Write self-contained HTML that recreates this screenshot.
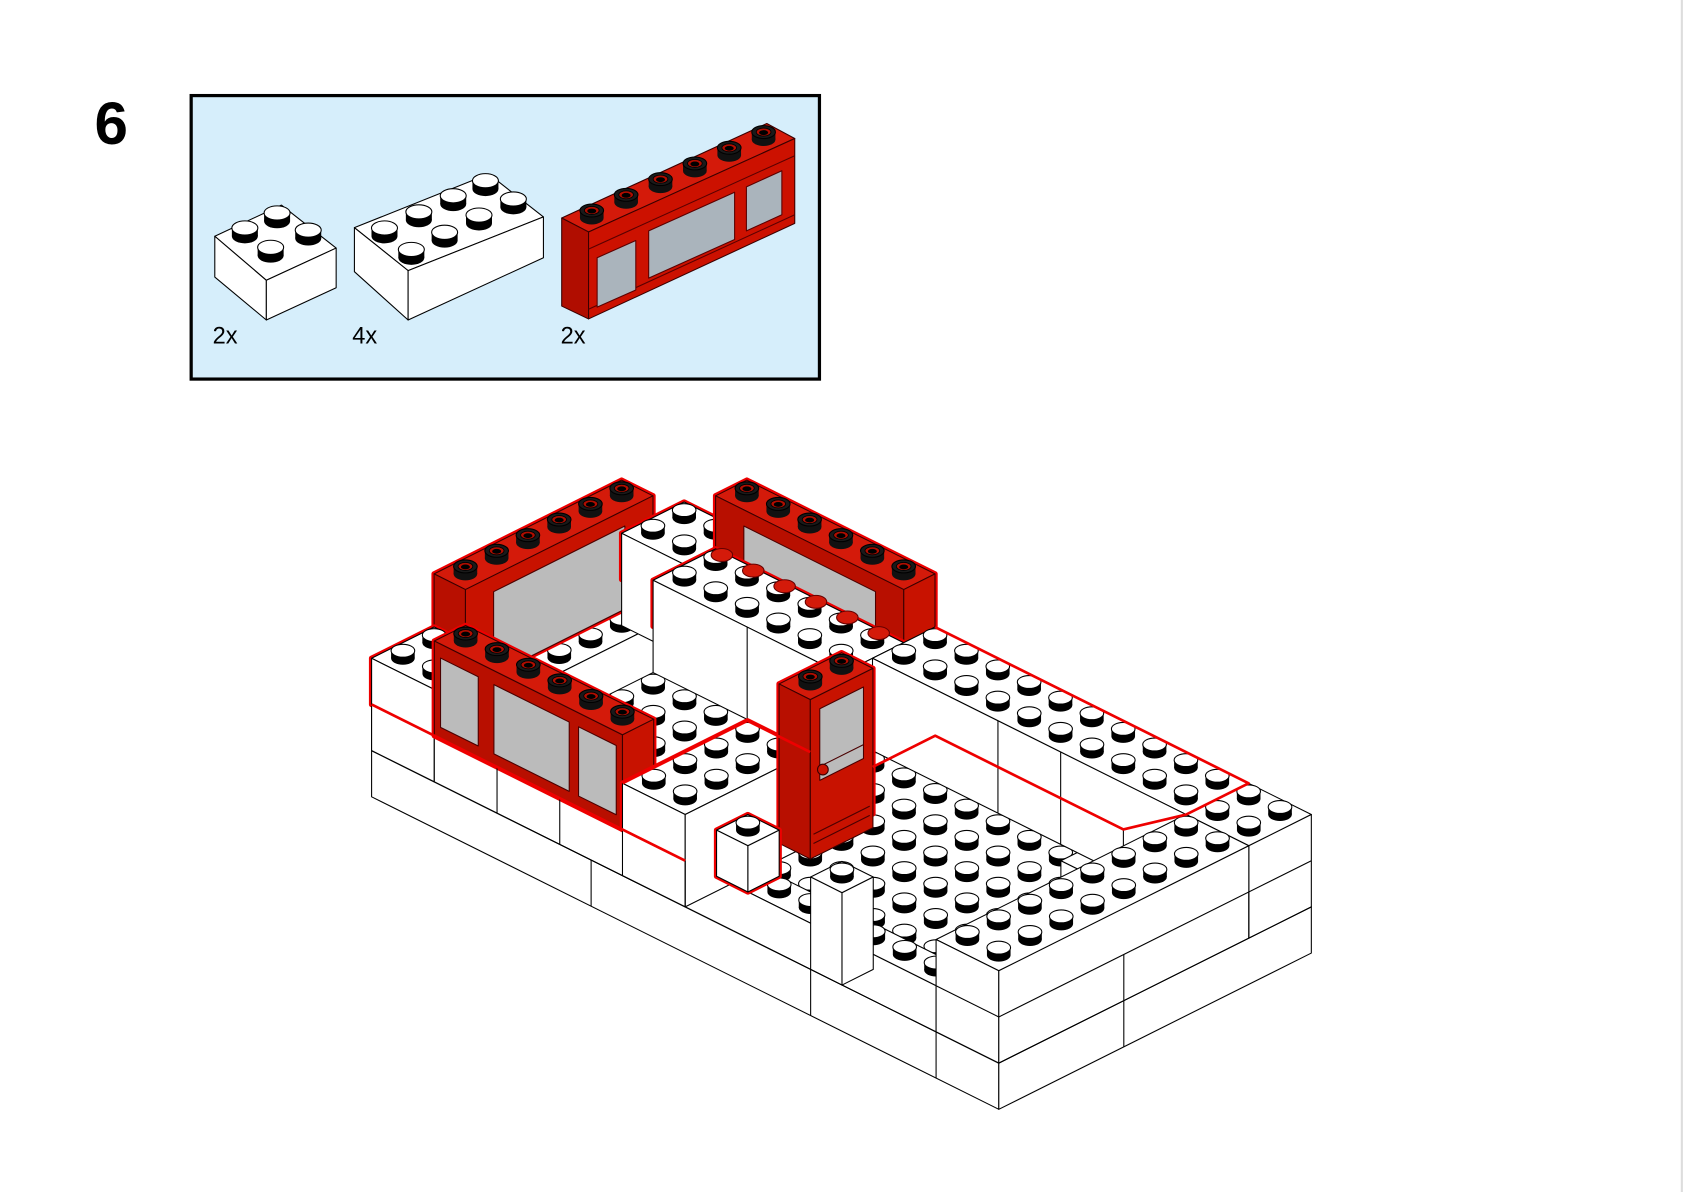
<!DOCTYPE html>
<html><head><meta charset="utf-8"><style>
html,body{margin:0;padding:0;background:#fff;}
svg{display:block;}
</style></head><body>
<svg id="s" xmlns="http://www.w3.org/2000/svg" width="1684" height="1192" viewBox="0 0 1568 1110" preserveAspectRatio="none">
<rect x="0" y="0" width="1568" height="1110" fill="#fff"/>
<line x1="1566" y1="0" x2="1566" y2="1110" stroke="#ddd" stroke-width="2"/>
<text x="88" y="134" font-family="Liberation Sans, sans-serif" font-weight="bold" font-size="56" fill="#000">6</text>
<rect x="178" y="89" width="585" height="264" fill="#d6eefb" stroke="#000" stroke-width="3"/>
<g font-family="Liberation Sans, sans-serif" font-size="22" fill="#000">
<text x="198" y="320">2x</text><text x="328" y="320">4x</text><text x="522" y="320">2x</text>
</g>
<g id="parts" stroke="#000" stroke-width="1" stroke-linejoin="round">
<polygon points="200,220 262,191 313,231 248,261" fill="#fff"/>
<polygon points="200,220 248,261 248,298 200,258" fill="#fff"/>
<polygon points="248,261 313,231 313,268 248,298" fill="#fff"/>
<polygon points="330,212 455,162 506,202 380,252" fill="#fff"/>
<polygon points="330,212 380,252 380,298 330,253" fill="#fff"/>
<polygon points="380,252 506,202 506,240 380,298" fill="#fff"/>
<polygon points="523,203 714,115 740,129 548,216" fill="#d41a0a" stroke="#3a0000"/>
<polygon points="523,203 548,216 548,297 523,285" fill="#b00d00" stroke="#3a0000"/>
<polygon points="548,216 740,129 740,208 548,297" fill="#cc1100" stroke="#3a0000"/>
<polyline points="548,232 740,145" fill="none" stroke="#5a0000"/>
<polyline points="548,288 740,200" fill="none" stroke="#5a0000"/>
<polygon points="556,240 592,224 592,270 556,286" fill="#aab4bc" stroke="#5a0000"/>
<polygon points="604,215 684,179 684,223 604,259" fill="#aab4bc" stroke="#5a0000"/>
<polygon points="695,174 728,159 728,200 695,215" fill="#aab4bc" stroke="#5a0000"/>
</g>
<g id="pst"></g>
<g id="m"></g>
</svg>
<script>
const NS='http://www.w3.org/2000/svg';
let G=document.getElementById('pst');
function el(t,a){const e=document.createElementNS(NS,t);for(const k in a)e.setAttribute(k,a[k]);G.appendChild(e);return e;}
function pts(a){return a.map(p=>p[0].toFixed(1)+','+p[1].toFixed(1)).join(' ');}
function pg(a,fill,stroke,sw){el('polygon',{points:pts(a),fill:fill,stroke:stroke||'#000','stroke-width':sw||1,'stroke-linejoin':'round'});}
function stud(x,y,red,r){r=r||1;const rx=11*r,ry=6*r,h=7*r;
 if(red){
  el('rect',{x:x-rx,y:y-h,width:2*rx,height:h,fill:'#111'});
  el('ellipse',{cx:x,cy:y,rx:rx,ry:ry,fill:'#111'});
  el('ellipse',{cx:x,cy:y-h,rx:rx,ry:ry,fill:'#1a1a1a',stroke:'#000'});
  el('ellipse',{cx:x,cy:y-h,rx:rx*0.62,ry:ry*0.62,fill:'#b00d00',stroke:'#000','stroke-width':0.8});
  el('ellipse',{cx:x,cy:y-h+0.5,rx:rx*0.38,ry:ry*0.38,fill:'#000'});
 }else{
  el('rect',{x:x-rx,y:y-h,width:2*rx,height:h,fill:'#000'});
  el('ellipse',{cx:x,cy:y,rx:rx,ry:ry,fill:'#000'});
  el('ellipse',{cx:x,cy:y-h,rx:rx,ry:ry,fill:'#fff',stroke:'#000'});
 }}
[[258,206],[228,220],[287,222],[252,238]].forEach(p=>stud(p[0],p[1],false,1.1));
[[452,176],[422,190],[478,193],[390,205],[446,208],[358,220],[414,224],[383,240]].sort((a,b)=>a[1]-b[1]).forEach(p=>stud(p[0],p[1],false,1.1));
for(let i=0;i<6;i++){stud(551+i*32,203-i*14.6,true,1.0);}

G=document.getElementById('m');
function P(u,v,h){return [930-29.2*u+29.1*v,1033-14.55*(u+v)-43*h];}
function box(u0,u1,v0,v1,h0,h1,o){o=o||{};
 const red=o.red,st=red?'#3a0000':'#000';
 if(o.out){const b=Math.max(h0,2);pg([P(u1,v0,b),P(u0,v0,b),P(u0,v1,b),P(u0,v1,h1),P(u1,v1,h1),P(u1,v0,h1)],'none','#e00',5);}
 pg([P(u0,v0,h1),P(u1,v0,h1),P(u1,v1,h1),P(u0,v1,h1)],red?'#d41a0a':'#fff',st);
 pg([P(u0,v0,h0),P(u1,v0,h0),P(u1,v0,h1),P(u0,v0,h1)],red?'#b80f00':'#fff',st);
 pg([P(u0,v0,h0),P(u0,v1,h0),P(u0,v1,h1),P(u0,v0,h1)],red?'#c81200':'#fff',st);
 if(o.studs!==false){const L=[];
  for(let i=u0;i<u1-0.01;i++)for(let j=v0;j<v1-0.01;j++)L.push([i+0.5,j+0.5]);
  L.sort((a,b)=>(b[0]+b[1])-(a[0]+a[1]));
  L.forEach(s=>{const p=P(s[0],s[1],h1);stud(p[0],p[1],red);});}
}
function fV(v,ua,ub,ha,hb,f){pg([P(ua,v,ha),P(ub,v,ha),P(ub,v,hb),P(ua,v,hb)],f||'#bbbbbb','#4a0000',1);}
function fU(u,va,vb,ha,hb,f){pg([P(u,va,ha),P(u,vb,ha),P(u,vb,hb),P(u,va,hb)],f||'#bbbbbb','#4a0000',1);}
function ln(a,b,c){el('line',{x1:a[0],y1:a[1],x2:b[0],y2:b[1],stroke:c||'#000','stroke-width':1});}
function tile(u,v,h){const p=P(u,v,h);el('ellipse',{cx:p[0],cy:p[1]-6,rx:10,ry:6,fill:'#d41a0a',stroke:'#600'});}

box(0,20,0,10,0,1);
box(18,20,0,10,1,2);
box(19,20,2,8,2,4.15,{red:1,out:1});
fU(19,2.9,7.1,2,3.8);
box(18,20,8,10,1,3,{out:1});
box(12,18,9,10,1,2,{studs:false});
box(12,18,9,10,2,4.15,{red:1,out:1});
fV(9,12.9,17.1,2,3.8);
box(12,18,7,9,1,3,{out:1});
ln(P(15,7,1),P(15,7,3));
for(let u=12.5;u<18;u++)tile(u,8.7,3);
tile(16.6,4.5,1);tile(17.5,3.6,1);
box(18,20,0,2,1,3,{out:1});
box(2,18,0,1,1,2);
box(12,18,0,1,2,4.05,{red:1,out:1});
fV(0,16.6,17.8,2.25,3.75);fV(0,13.7,16.1,2.25,3.75);fV(0,12.2,13.4,2.25,3.75);
box(2,4,6,8,1,2,{studs:false});
box(0,12,8,10,1,3);
ln(P(8,8,1),P(8,8,3));ln(P(6,8,1),P(6,8,3));ln(P(4,8,1),P(4,8,2));
box(10,12,0,4,1,3,{out:1});
box(8.5,9.5,2.5,4.5,1.7,5.15,{red:1,out:1});
fU(8.5,2.8,4.2,3.3,4.85);
ln(P(8.5,2.8,3.6),P(8.5,4.2,3.6),'#4a0000');
ln(P(8.5,2.6,2.2),P(8.5,4.4,2.2),'#4a0000');ln(P(8.5,2.6,2.0),P(8.5,4.4,2.0),'#4a0000');
(function(){const p=P(8.5,2.9,3.5);el('circle',{cx:p[0],cy:p[1],r:5,fill:'#cc1100',stroke:'#3a0000'});})();
box(8,9,0,1,2,3,{out:1});
box(5,6,0,1,1,3);
box(0,2,0,8,1,3);
// outer layer lines & seams
ln(P(0,0,1),P(20,0,1));ln(P(0,0,2),P(2,0,2));ln(P(10,0,2),P(20,0,2));
ln(P(0,0,1),P(0,10,1));ln(P(0,0,2),P(0,10,2));
ln(P(16,0,1),P(16,0,2));ln(P(14,0,1),P(14,0,2));ln(P(10,0,1),P(10,0,2));
ln(P(6,0,0),P(6,0,1));ln(P(13,0,0),P(13,0,1));ln(P(2,0,0),P(2,0,1));
ln(P(0,4,0),P(0,4,2));ln(P(0,8,1),P(0,8,2));
function rp(a){el('polyline',{points:pts(a),fill:'none',stroke:'#e00','stroke-width':2.5,'stroke-linejoin':'round'});}
rp([P(20,0,2),P(10,0,2)]);
rp([P(10,6,2),P(10,8,2),P(4,8,2),P(2,8,3),P(2,10,3),P(12,10,3)]);
rp([P(12,0,3),P(12,4,3),P(10,4,3)]);
</script>
</body></html>
